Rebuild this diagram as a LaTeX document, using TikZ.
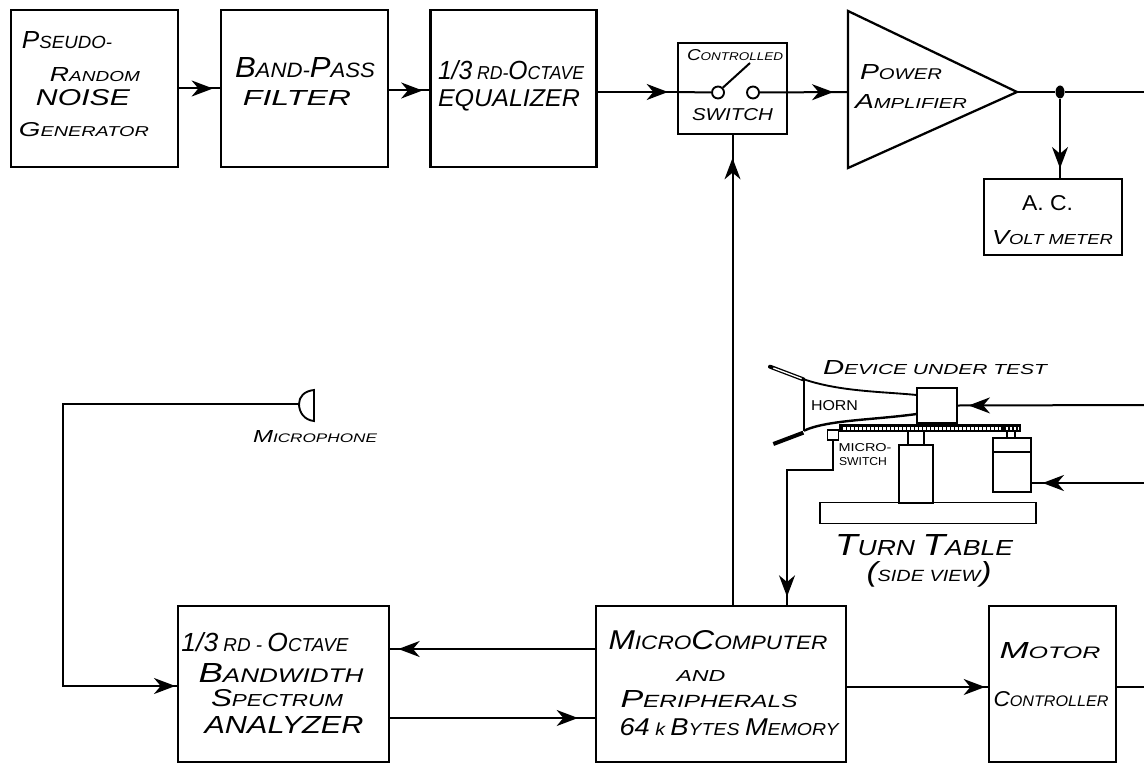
\documentclass[tikz,border=0pt]{standalone}
\usepackage{fontspec}
\usepackage{graphicx}
\setmainfont{Liberation Sans}[ItalicFont={Liberation Sans Italic}]
\usetikzlibrary{arrows.meta,decorations.markings,shapes.geometric}
\newlength\pxu \setlength\pxu{0.75pt}
% first letter larger, rest small: hand-lettered small capitals
\newcommand\T[2]{{\fontsize{14}{14}\selectfont #1}{\fontsize{10}{10}\selectfont #2}}
\newcommand\Fit[3]{\resizebox{#1\pxu}{#2\pxu}{\itshape #3}}
\tikzset{
  blockbox/.style={draw,line width=1.7pt,inner sep=0pt,outer sep=0pt},
  wire/.style={line width=1.5pt},
  part/.style={line width=1.4pt},
  partbox/.style={draw,line width=1.4pt,inner sep=0pt},
  lettering/.style={inner sep=0pt,outer sep=0pt},
  headat/.style={postaction={decorate},decoration={markings,
     mark=at position -#1pt with {\arrow{Stealth[length=16pt,width=12pt,inset=5pt]}}}},
}
\begin{document}
\begin{tikzpicture}[x=0.75pt,y=-0.75pt]
\useasboundingbox (0,0) rectangle (1144,763);
% blocks
\node[blockbox,minimum width=167\pxu,minimum height=157\pxu] (noise) at (94.5,88.5) {};
\node[blockbox,minimum width=167\pxu,minimum height=157\pxu] (band) at (304.5,88.5) {};
\node[blockbox,minimum width=166\pxu,minimum height=157\pxu] (eq) at (513.5,88.5) {};
\node[blockbox,minimum width=109\pxu,minimum height=91\pxu] (sw) at (732.5,88.5) {};
\node[blockbox,minimum width=138\pxu,minimum height=76\pxu] (volt) at (1053,217) {};
\node[blockbox,minimum width=211\pxu,minimum height=156\pxu] (ana) at (283.5,684) {};
\node[blockbox,minimum width=250\pxu,minimum height=156\pxu] (micro) at (721,684) {};
\node[blockbox,minimum width=127\pxu,minimum height=156\pxu] (motctl) at (1052.5,684) {};
% amplifier
\coordinate (ampT) at (848,11);
\coordinate (ampB) at (848,168);
\coordinate (ampIn) at (848,92);
\coordinate (ampOut) at (1017,92);
\draw[blockbox,line join=miter] (ampT) -- (ampOut) -- (ampB) -- cycle;
% free ends at the right margin
\coordinate (edgeAmp) at (1144,92);
\coordinate (edgeDev) at (1144,405);
\coordinate (edgeMot) at (1144,483);
\coordinate (edgeCtl) at (1144,687);
% switch contacts
\node[partbox,circle,minimum size=12\pxu] (c1) at (718,92.5) {};
\node[partbox,circle,minimum size=12\pxu] (c2) at (753,92.5) {};
\coordinate (lever) at (750,63);
\draw[wire] (c1.north east) -- (lever);
% junction
\node[fill=black,ellipse,minimum width=9\pxu,minimum height=13\pxu,inner sep=0pt] (dot) at (1060,92) {};
% connectors
\draw[wire,headat=6] (noise.east) -- (band.west);
\draw[wire,headat=6] ([yshift=-2\pxu]band.east) -- ([yshift=-2\pxu]eq.west);
\draw[wire,headat=7.5] ([yshift=-3.5\pxu]eq.east) -- ([yshift=-3.5\pxu]sw.west);
\draw[wire] ([yshift=-3.5\pxu]sw.west) -- (c1.west);
\draw[wire,headat=11] (c2.east) -- (ampIn);
\draw[wire] (ampOut) -- (dot.west);
\draw[wire] (dot.east) -- (edgeAmp);
\draw[wire,headat=8] (dot.south) -- (dot |- volt.north);
\draw[wire,headat=18] (sw.south |- micro.north) -- (sw.south);
% microphone
\coordinate (micP) at (299,404);
\draw[part] (314,390) .. controls (304,391) and (299,397) .. (micP) .. controls (299,412) and (304,420) .. (314,421) -- cycle;
\coordinate (micCorner) at (63,404);
\coordinate (anaCorner) at (63,686);
\draw[wire,headat=2] (micP) -- (micCorner) -- (anaCorner) -- ([yshift=-2\pxu]ana.west);
\draw[wire,headat=7] ([yshift=35\pxu]micro.west) -- ([yshift=35\pxu]ana.east);
\draw[wire,headat=13.5] ([yshift=-34\pxu]ana.east) -- ([yshift=-34\pxu]micro.west);
\draw[wire,headat=3] ([yshift=-3\pxu]micro.east) -- ([yshift=-3\pxu]motctl.west);
\draw[wire] ([yshift=-3\pxu]motctl.east) -- (edgeCtl);
% device under test and turntable
\node[partbox,minimum width=40\pxu,minimum height=35\pxu] (driver) at (937,405.5) {};
\node[partbox,minimum width=38\pxu,minimum height=54\pxu] (tmotor) at (1012,465) {};
\node[partbox,minimum width=11\pxu,minimum height=10\pxu] (msw) at (833,435) {};
\node[partbox,minimum width=216\pxu,minimum height=21\pxu] (base) at (928,513) {};
\node[partbox,minimum width=34\pxu,minimum height=58\pxu] (pillar) at (916,474) {};
\node[partbox,minimum width=16\pxu,minimum height=14\pxu] (shaft) at (916,438) {};
\begin{scope}[shift={(740,340)},scale=1/3]
  \draw[line width=3pt,line cap=round] (90,80) -- (190,118);
  \draw[white,line width=1pt] (100,84) -- (185,116);
  \draw[line width=3pt] (100,312) -- (190,278);
  \draw[part] (192,118) -- (192,272);
  \draw[part] (192,118) .. controls (300,155) and (430,155) .. (530,165);
  \draw[line width=1.8pt] (192,272) .. controls (260,240) and (400,240) .. (530,222);
  \fill (298,253) rectangle (842,277);
  \draw[white,line width=2.2pt,dash pattern=on 2pt off 1pt] (310,265) -- (782,265);
  \draw[white,line width=2.2pt,dash pattern=on 2pt off 1pt] (797,265) -- (834,265);
  \draw[part] (760,335) -- (872,335);
  \draw[part] (802,277) -- (802,295);
  \draw[part] (824,277) -- (824,295);
\end{scope}
\draw[wire,headat=8] (edgeDev) -- (driver.east);
\draw[wire,headat=8] (edgeMot) -- (edgeMot -| tmotor.east);
\coordinate (mswKnee) at (833,470);
\coordinate (mswDrop) at (787,470);
\draw[wire,headat=7] (msw.south) -- (mswKnee) -- (mswDrop) -- (mswDrop |- micro.north);
% lettering
\node[lettering] (t1) at (67,40) {\Fit{90}{17}{\T{P}{SEUDO-}}};
\node[lettering] (t2) at (95,75) {\Fit{90}{14}{\T{R}{ANDOM}}};
\node[lettering] (t3) at (83,98) {\Fit{94}{16}{NOISE}};
\node[lettering] (t4) at (84,130) {\Fit{130}{14}{\T{G}{ENERATOR}}};
\node[lettering] (t5) at (305,68) {\Fit{140}{20}{\T{B}{AND-}\T{P}{ASS}}};
\node[lettering] (t6) at (297,98) {\Fit{108}{15}{FILTER}};
\node[lettering] (t7) at (511,70) {\Fit{146}{19}{\T{1/3}{ RD-}\T{O}{CTAVE}}};
\node[lettering] (t8) at (509,100) {\Fit{142}{17}{EQUALIZER}};
\node[lettering] (t9) at (735,55) {\Fit{96}{11}{\T{C}{ONTROLLED}}};
\node[lettering] (t10) at (732.5,115) {\Fit{81}{12}{SWITCH}};
\node[lettering] (t11) at (901,72) {\Fit{82}{15}{\T{P}{OWER}}};
\node[lettering] (t12) at (911,102) {\Fit{112}{14}{\T{A}{MPLIFIER}}};
\node[lettering] (t13) at (1047.5,203) {\resizebox{51\pxu}{15\pxu}{A. C.}};
\node[lettering] (t14) at (1052.5,238) {\Fit{121}{14}{\T{V}{OLT METER}}};
\node[lettering] (t15) at (315,437) {\Fit{124}{12}{\T{M}{ICROPHONE}}};
\node[lettering] (t16) at (265,642) {\Fit{167}{19}{\T{1/3}{ RD - }\T{O}{CTAVE}}};
\node[lettering] (t17) at (281,673) {\Fit{165}{19}{\T{B}{ANDWIDTH}}};
\node[lettering] (t18) at (277,698) {\Fit{132}{17}{\T{S}{PECTRUM}}};
\node[lettering] (t19) at (284,725) {\Fit{159}{17}{ANALYZER}};
\node[lettering] (t20) at (718,640) {\Fit{219}{19}{\T{M}{ICRO}\T{C}{OMPUTER}}};
\node[lettering] (t21) at (701,676) {\Fit{49}{11}{AND}};
\node[lettering] (t22) at (709,699) {\Fit{177}{17}{\T{P}{ERIPHERALS}}};
\node[lettering] (t23) at (729,727) {\Fit{219}{17}{\T{64}{ k }\T{B}{YTES }\T{M}{EMORY}}};
\node[lettering] (t24) at (1050,651) {\Fit{101}{16}{\T{M}{OTOR}}};
\node[lettering] (t25) at (1051,699) {\Fit{115}{15}{\T{C}{ONTROLLER}}};
\node[lettering] (t26) at (935,368) {\Fit{224}{14}{\T{D}{EVICE UNDER TEST}}};
\node[lettering] (t27) at (834.5,406) {\resizebox{47\pxu}{10\pxu}{HORN}};
\node[lettering] (t28) at (865,448) {\resizebox{53\pxu}{8\pxu}{MICRO-}};
\node[lettering] (t29) at (863,462) {\resizebox{48\pxu}{8\pxu}{SWITCH}};
\node[lettering] (t30) at (924,545) {\Fit{178}{21}{\T{T}{URN }\T{T}{ABLE}}};
\node[lettering] (t31) at (929,574) {\Fit{125}{20}{{\fontsize{17}{17}\selectfont (}{\fontsize{10}{10}\selectfont SIDE VIEW}{\fontsize{17}{17}\selectfont )}}};
\end{tikzpicture}
\end{document}
